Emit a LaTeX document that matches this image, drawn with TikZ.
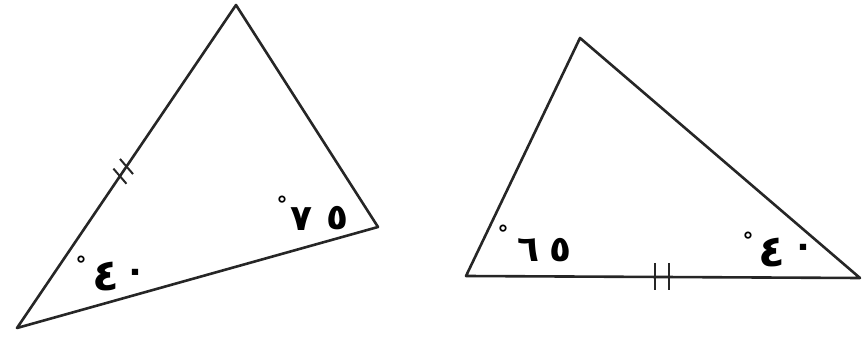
\documentclass[tikz,border=0pt]{standalone}
\usepackage{fontspec}
\usetikzlibrary{calc}
\newfontfamily\arabicfont{DejaVu Sans}
\begin{document}
\begin{tikzpicture}[x=1pt,y=-1pt,
  side/.style={line width=2.6pt,line join=round,draw=black!85},
  tickmark/.style={line width=2pt,draw=black!85},
  digit/.style={inner sep=0pt,font=\arabicfont\bfseries\fontsize{36}{38}\selectfont},
  tallfour/.style={inner sep=0pt,font=\arabicfont\bfseries\fontsize{44}{46}\selectfont},
  degmark/.style={inner sep=0pt,font=\arabicfont\bfseries\fontsize{22}{24}\selectfont}]
\useasboundingbox (0,0) rectangle (866,344);
% left triangle
\coordinate (A) at (236,5);
\coordinate (B) at (17,328);
\coordinate (C) at (378,227);
\draw[side] (A) -- (B) -- (C) -- cycle;
% ticks on AB
\path (B) -- (A) coordinate[pos=0.47] (m1) coordinate[pos=0.50] (m2);
\draw[tickmark] ($(m1)!10pt!75:(A)$) -- ($(m1)!-10pt!75:(A)$);
\draw[tickmark] ($(m2)!10pt!75:(A)$) -- ($(m2)!-10pt!75:(A)$);
% right triangle
\coordinate (D) at (580,38);
\coordinate (E) at (466,276);
\coordinate (F) at (860,278);
\draw[side] (D) -- (E) -- (F) -- cycle;
\coordinate (k1) at (655,263);
\coordinate (k1b) at (655,290);
\coordinate (k2) at (669,263);
\coordinate (k2b) at (669,290);
\draw[tickmark] (k1) -- (k1b);
\draw[tickmark] (k2) -- (k2b);
% labels left triangle
\node[degmark] (d1) at (81,264) {°};
\node[tallfour] (n4a) at (106,277) {٤};
\node[digit] (n0a) at (135,276) {٠};
\node[degmark] (d2) at (282,204) {°};
\node[digit] (n7) at (301,219) {٧};
\node[digit] (n5a) at (337,218) {٥};
% labels right triangle
\node[degmark] (d3) at (503,233) {°};
\node[digit] (n6) at (528,250) {٦};
\node[digit] (n5b) at (560,250) {٥};
\node[degmark] (d4) at (748,240) {°};
\node[tallfour] (n4b) at (772,253) {٤};
\node[digit] (n0b) at (803,251) {٠};
\end{tikzpicture}
\end{document}
